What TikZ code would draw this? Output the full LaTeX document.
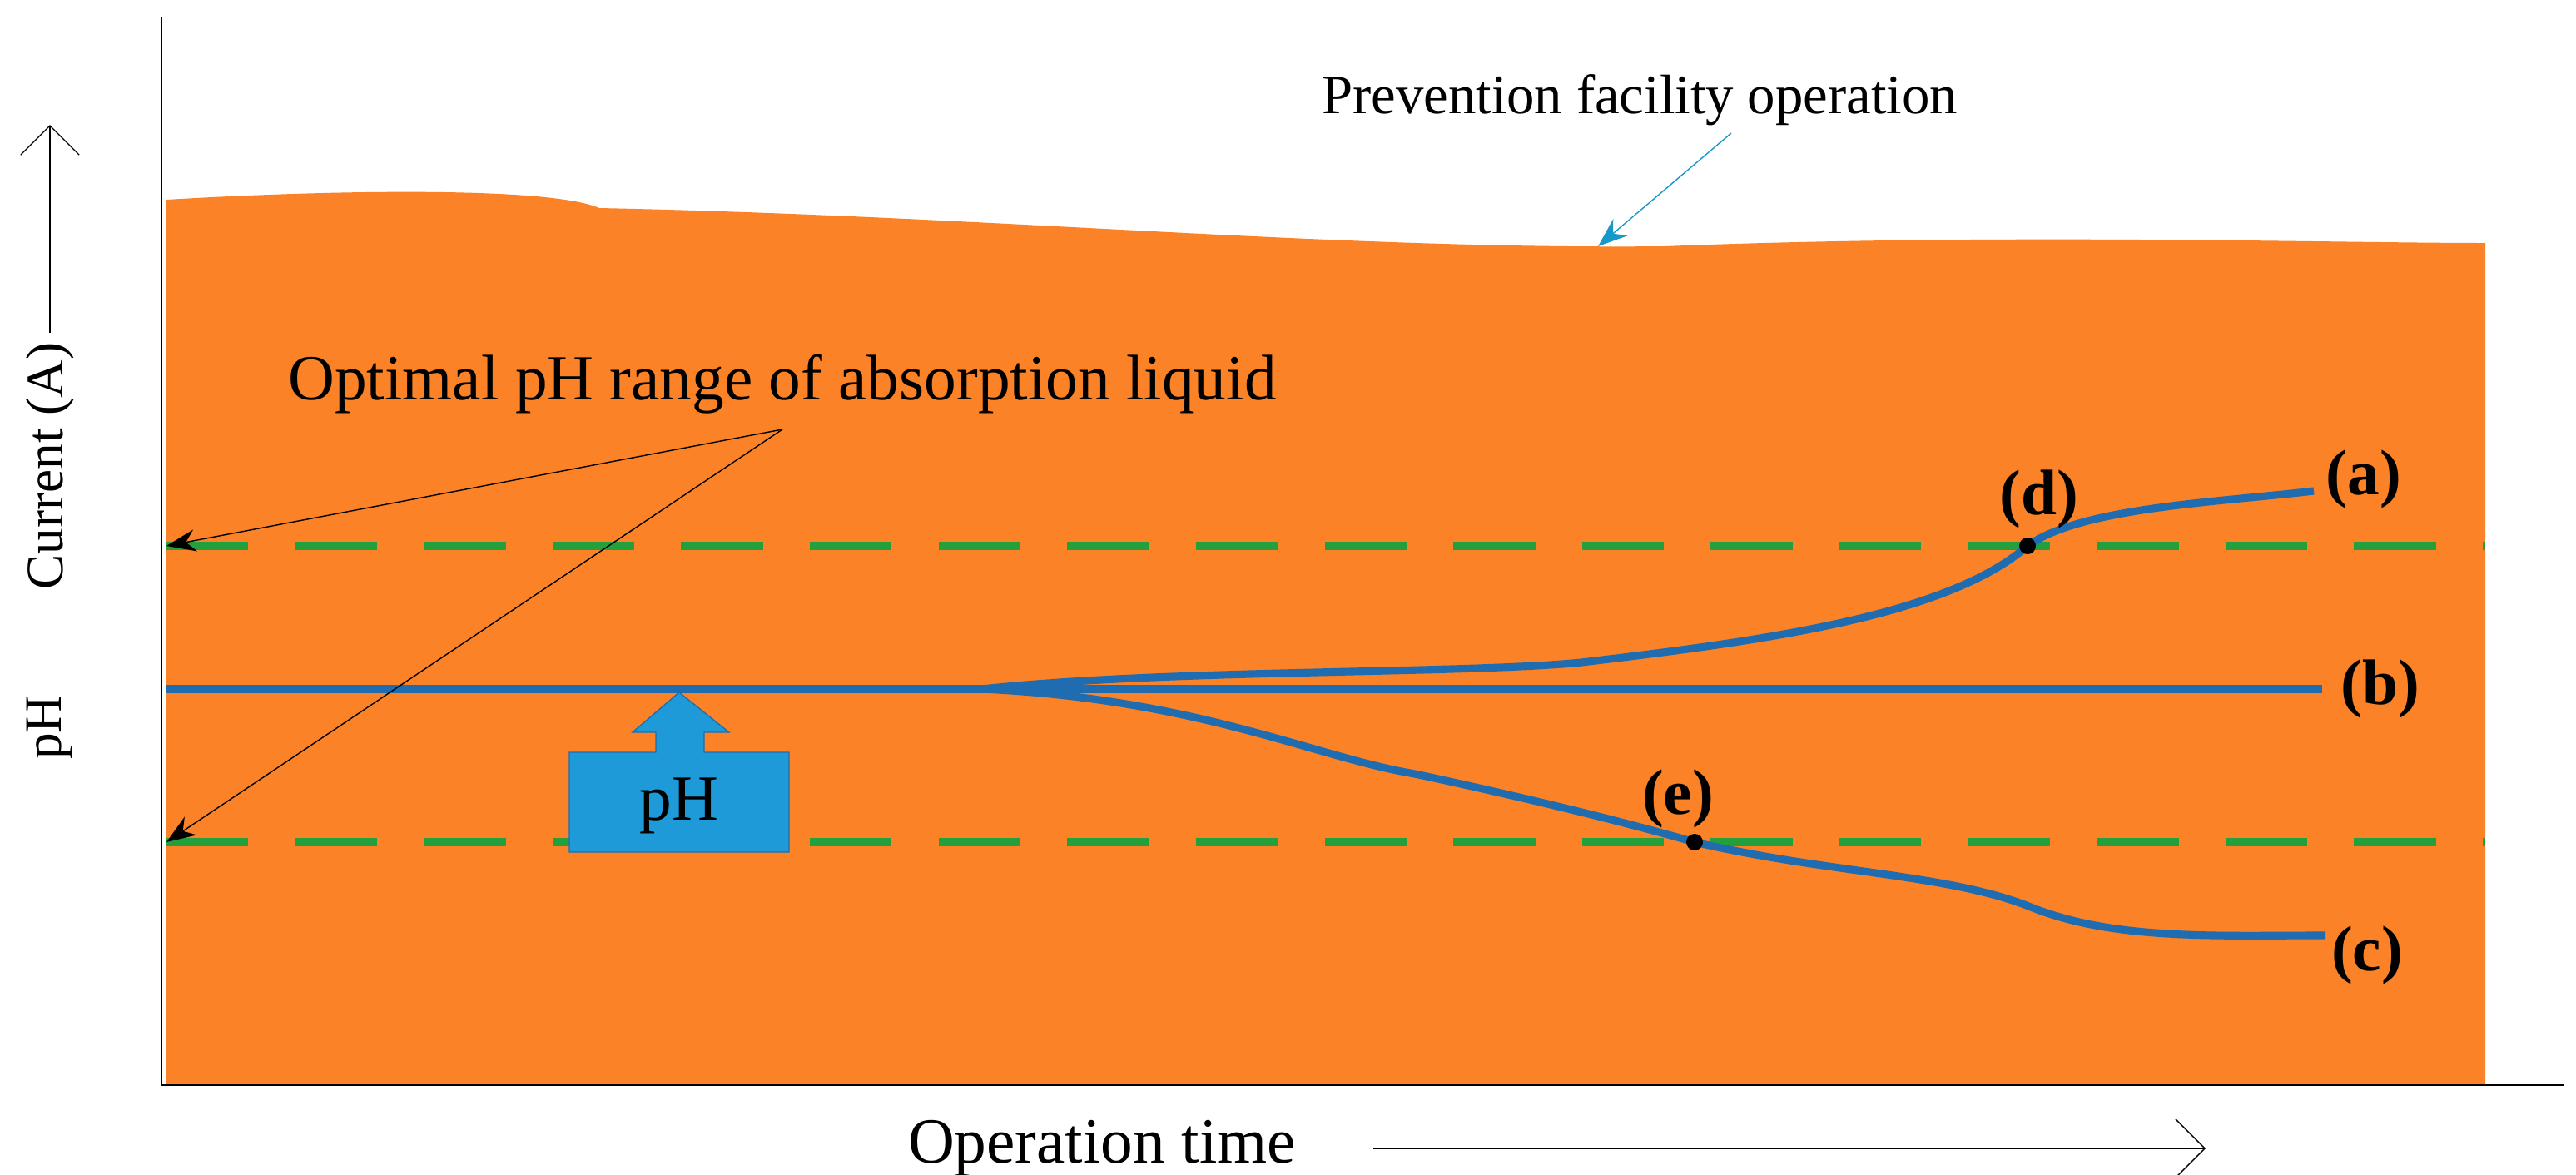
\documentclass[tikz,border=0pt]{standalone}
\usepackage{fontspec}
\setmainfont{Liberation Serif}
\usetikzlibrary{arrows.meta}
\definecolor{orangefill}{HTML}{FB8226}
\definecolor{curveblue}{HTML}{1F6DB0}
\definecolor{limitgreen}{HTML}{23A03C}
\definecolor{boxblue}{HTML}{1E9AD8}
\tikzset{
  lbl/.style={font=\fontsize{22}{24}\selectfont},
  small lbl/.style={font=\fontsize{18}{20}\selectfont},
  tag/.style={font=\fontsize{22}{24}\selectfont\bfseries},
  curve/.style={curveblue, line width=2.6pt},
  limit/.style={limitgreen, line width=2.6pt, dash pattern=on 28pt off 16pt},
  pointer/.style={-{Stealth[length=10pt]}, thin}
}
\begin{document}
\begin{tikzpicture}[x=0.02cm,y=-0.02cm]
    \useasboundingbox (0,0) rectangle (1547.5,705.5);
    % orange band
    \fill[orangefill] (100,652) -- (100,120) .. controls (200,114) and (330,112) .. (360,125)
      .. controls (600,130) and (800,150) .. (1000,148) .. controls (1200,140) and (1400,146) .. (1493,146)
      -- (1493,652) -- cycle;
    % axes
    \draw[thin] (97,10) -- (97,652) -- (1540,652);
    \coordinate (yt) at (30,200); \coordinate (yh) at (30,75);
    \draw[-{Straight Barb[length=10pt]}, thin] (yt) -- (yh);
    \node[small lbl, rotate=90] (ylab) at (30,280) {Current (A)};
    \node[small lbl, rotate=90] (phlab) at (30,437) {pH};
    \node[lbl] (xlab) at (662,690) {Operation time};
    \coordinate (xt) at (825,690); \coordinate (xh) at (1325,690);
    \draw[-{Straight Barb[length=10pt]}, thin] (xt) -- (xh);
    % limits
    \draw[limit] (100,328) -- (1493,328);
    \draw[limit] (100,506) -- (1493,506);
    % curves
    \coordinate (split) at (590,414);
    \draw[curve] (100,414) -- (1395,414);
    \draw[curve] (split) .. controls (700,402) and (880,405) .. (950,398)
      .. controls (1060,385) and (1170,370) .. (1218,328)
      .. controls (1250,305) and (1330,302) .. (1390,295);
    \draw[curve] (split) .. controls (720,420) and (790,455) .. (850,465)
      .. controls (920,480) and (980,495) .. (1018,506)
      .. controls (1100,525) and (1170,525) .. (1220,545)
      .. controls (1270,565) and (1330,562) .. (1397,562);
    \fill (1218,328) circle (5);
    \fill (1018,506) circle (5);
    \node[tag] (ta) at (1420,288) {(a)};
    \node[tag] (tb) at (1430,414) {(b)};
    \node[tag] (tc) at (1422,574) {(c)};
    \node[tag] (td) at (1225,300) {(d)};
    \node[tag] (te) at (1008,480) {(e)};
    % pH marker
    \draw[curveblue, fill=boxblue, thin] (342,512) -- (342,452) -- (394,452) -- (394,440) -- (380,440)
      -- (408,416) -- (438,440) -- (423,440) -- (423,452) -- (474,452) -- (474,512) -- cycle;
    \node[lbl] (ph) at (408,484) {pH};
    % annotations
    \node[lbl, anchor=south] (opt) at (470,255) {Optimal pH range of absorption liquid};
    \coordinate (upper) at (100,328); \coordinate (lower) at (100,506);
    \coordinate (fork) at (470,258);
    \draw[pointer] (fork) -- (upper);
    \draw[pointer] (fork) -- (lower);
    \node[lbl, font=\fontsize{19}{21}\selectfont] (prev) at (985,60) {Prevention facility operation};
    \coordinate (band) at (960,148);
    \draw[pointer, curveblue!70!cyan] (1040,80) -- (band);
\end{tikzpicture}
\end{document}
